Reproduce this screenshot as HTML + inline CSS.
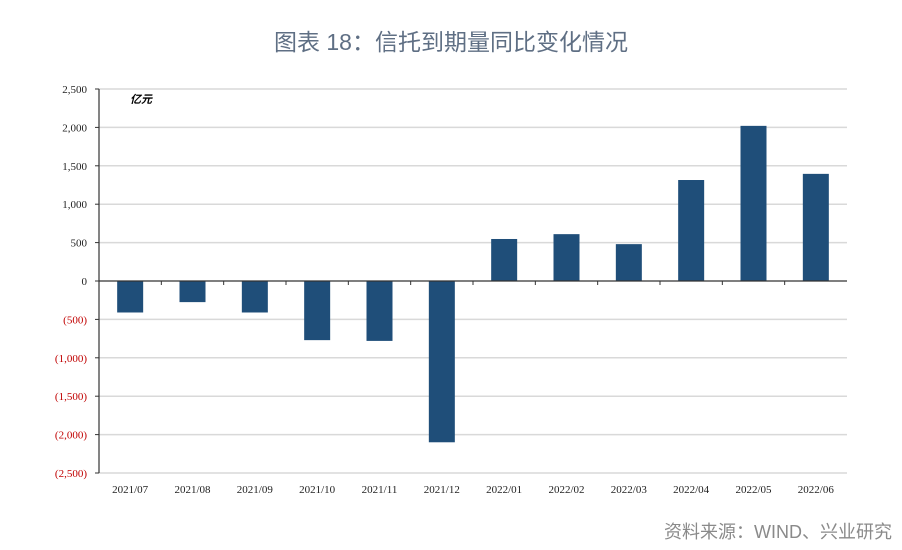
<!DOCTYPE html>
<html><head><meta charset="utf-8">
<style>
body{margin:0;background:#fff;width:902px;height:550px;overflow:hidden;font-family:"Liberation Sans","Noto Sans CJK SC",sans-serif;}
#title{position:absolute;left:0;width:902px;top:23px;text-align:center;font-size:23px;color:#5f6f84;}
#src{position:absolute;right:10px;top:518px;font-size:18px;color:#8a8a8a;}
</style></head><body>
<div id="title">图表 18：信托到期量同比变化情况</div>
<svg id="chart" width="902" height="550" style="position:absolute;left:0;top:0"></svg>
<div id="src">资料来源：WIND、兴业研究</div>
<script>
const categories=["2021/07","2021/08","2021/09","2021/10","2021/11","2021/12","2022/01","2022/02","2022/03","2022/04","2022/05","2022/06"];
const values=[-410,-275,-410,-770,-780,-2100,547,610,480,1315,2020,1395];
const ticks=[2500,2000,1500,1000,500,0,-500,-1000,-1500,-2000,-2500];
const tickLabels=["2,500","2,000","1,500","1,000","500","0","(500)","(1,000)","(1,500)","(2,000)","(2,500)"];
const svg=document.getElementById('chart');
const NS="http://www.w3.org/2000/svg";
const x0=99,x1=847,yTop=89,yBot=473,vMax=2500,vMin=-2500;
const y=v=>yTop+(vMax-v)/(vMax-vMin)*(yBot-yTop);
const bw=(x1-x0)/categories.length;
const xc=i=>x0+bw*(i+0.5);
function mk(t,a){const e=document.createElementNS(NS,t);for(const k in a)e.setAttribute(k,a[k]);svg.appendChild(e);return e;}
ticks.forEach((t,i)=>{
  if(t!==0){const g=mk('line',{x1:x0,x2:x1,y1:y(t),y2:y(t),stroke:'#d9d9d9','stroke-width':1.5});
  
  }
  const tk=mk('line',{x1:x0-4,x2:x0,y1:y(t),y2:y(t),stroke:'#333'});
  
  
  const l=mk('text',{x:x0-12,y:y(t)+4,'text-anchor':'end','font-size':11,fill:t<0?'#c00000':'#222','font-family':'Liberation Serif,serif'});
  l.textContent=tickLabels[i];
  
  
});
values.forEach((v,i)=>{
  const top=Math.min(y(v),y(0)),h=Math.abs(y(v)-y(0));
  const r=mk('rect',{x:xc(i)-13,y:top,width:26,height:h,fill:'#1f4e79'});
  
  
  const l=mk('text',{x:xc(i),y:yBot+20,'text-anchor':'middle','font-size':11,fill:'#222','font-family':'Liberation Serif,serif'});
  l.textContent=categories[i];
  
  
  if(i<categories.length-1){const t=mk('line',{x1:x0+bw*(i+1),x2:x0+bw*(i+1),y1:y(0),y2:y(0)+4,stroke:'#333'});
  
  }
});
const ax=mk('line',{x1:x0,x2:x1,y1:y(0),y2:y(0),stroke:'#333','stroke-width':1.2});


const ay=mk('line',{x1:x0,x2:x0,y1:yTop,y2:yBot,stroke:'#333','stroke-width':1.2});


const u=mk('text',{x:130,y:103,'font-size':11,'font-weight':'bold','font-style':'italic',fill:'#000'});
u.textContent='亿元';


</script>
</body></html>
